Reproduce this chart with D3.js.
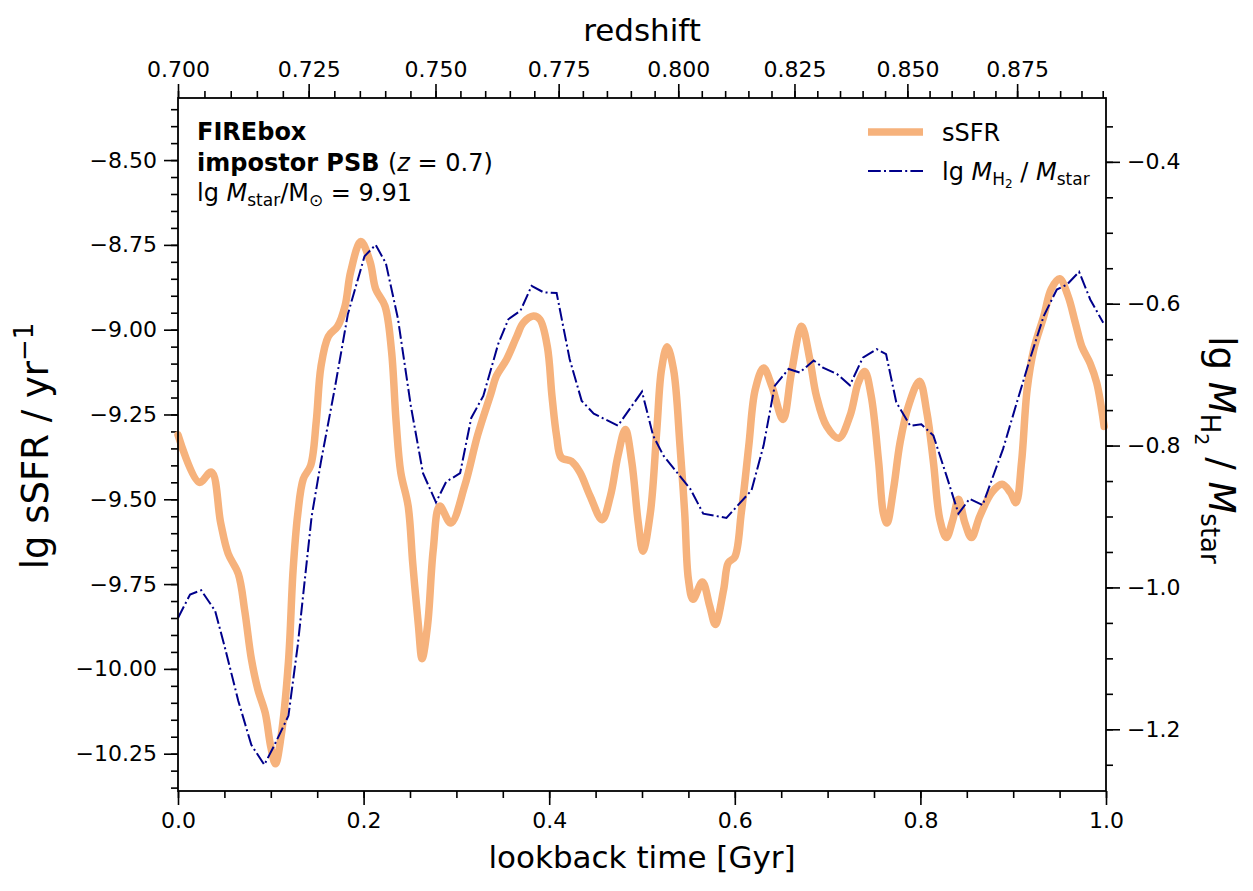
<!DOCTYPE html>
<html>
<head>
<meta charset="utf-8">
<script src="https://cdnjs.cloudflare.com/ajax/libs/d3/7.8.5/d3.min.js"></script>
<style>
	body { margin: 0; background: #fff; }
	text { font-family: "DejaVu Sans", sans-serif; fill: #000; }
</style>
</head>
<body>
<svg id="chart" width="1253" height="891"></svg>
<script>

// sSFR history (lookback time in Gyr, lg sSFR in yr^-1)
var sfrTime = [0.000, 0.023, 0.036, 0.046, 0.054, 0.065, 0.072, 0.079, 0.086, 0.094, 0.100, 0.105, 0.111, 0.119,
	0.124, 0.129, 0.135, 0.143, 0.149, 0.154, 0.162, 0.172, 0.180, 0.186, 0.197, 0.207, 0.213, 0.223, 0.230, 0.235,
	0.240, 0.248, 0.253, 0.259, 0.263, 0.269, 0.275, 0.282, 0.294, 0.309, 0.323, 0.337, 0.343, 0.354, 0.365, 0.372,
	0.383, 0.390, 0.398, 0.403, 0.408, 0.413, 0.424, 0.433, 0.444, 0.457, 0.466, 0.474, 0.482, 0.489, 0.496, 0.501,
	0.509, 0.516, 0.521, 0.527, 0.534, 0.541, 0.546, 0.550, 0.555, 0.565, 0.573, 0.579, 0.588, 0.593, 0.600, 0.607,
	0.615, 0.622, 0.631, 0.640, 0.652, 0.661, 0.672, 0.681, 0.688, 0.699, 0.712, 0.724, 0.733, 0.740, 0.747, 0.755,
	0.760, 0.764, 0.771, 0.778, 0.787, 0.799, 0.807, 0.814, 0.821, 0.828, 0.835, 0.841, 0.848, 0.855, 0.864, 0.877,
	0.888, 0.897, 0.903, 0.909, 0.915, 0.922, 0.933, 0.941, 0.950, 0.959, 0.967, 0.974, 0.983, 0.990, 0.998];
var sfrValue = [-9.31, -9.45, -9.42, -9.57, -9.66, -9.72, -9.83, -9.97, -10.06, -10.13, -10.23, -10.28, -10.20, -9.98,
	-9.71, -9.545, -9.44, -9.40, -9.27, -9.11, -9.02, -8.99, -8.93, -8.83, -8.74, -8.80, -8.88, -8.93, -9.06, -9.27,
	-9.42, -9.52, -9.69, -9.87, -9.97, -9.87, -9.65, -9.52, -9.57, -9.46, -9.31, -9.19, -9.137, -9.088, -9.02, -8.98,
	-8.96, -8.97, -9.05, -9.196, -9.314, -9.377, -9.388, -9.42, -9.49, -9.56, -9.49, -9.373, -9.294, -9.39, -9.57, -9.653,
	-9.54, -9.294, -9.118, -9.05, -9.118, -9.344, -9.54, -9.736, -9.795, -9.744, -9.815, -9.869, -9.766, -9.687, -9.67, -9.54,
	-9.344, -9.177, -9.113, -9.167, -9.265, -9.128, -8.99, -9.09, -9.196, -9.285, -9.32, -9.255, -9.157, -9.123, -9.196, -9.39,
	-9.54, -9.57, -9.47, -9.334, -9.226, -9.152, -9.245, -9.39, -9.56, -9.613, -9.56, -9.50, -9.57, -9.613, -9.55, -9.48,
	-9.456, -9.48, -9.51, -9.39, -9.177, -9.06, -8.96, -8.88, -8.85, -8.90, -8.98, -9.05, -9.10, -9.157, -9.285];

// molecular gas fraction (lookback time in Gyr, lg M_H2/M_star)
var h2Time = [0.000, 0.013, 0.025, 0.040, 0.050, 0.065, 0.079, 0.093, 0.104, 0.119, 0.129, 0.144, 0.154, 0.169,
	0.183, 0.201, 0.213, 0.224, 0.237, 0.251, 0.264, 0.278, 0.289, 0.304, 0.316, 0.329, 0.345, 0.356, 0.369, 0.381,
	0.394, 0.408, 0.422, 0.435, 0.448, 0.474, 0.500, 0.512, 0.523, 0.552, 0.566, 0.591, 0.618, 0.631, 0.643, 0.658,
	0.670, 0.685, 0.695, 0.710, 0.724, 0.738, 0.753, 0.763, 0.774, 0.789, 0.801, 0.814, 0.828, 0.841, 0.853, 0.867,
	0.889, 0.904, 0.918, 0.933, 0.947, 0.958, 0.971, 0.983, 0.997];
var h2Value = [-1.043, -1.010, -1.004, -1.033, -1.082, -1.160, -1.222, -1.250, -1.222, -1.181, -1.082, -0.900, -0.823, -0.719,
	-0.615, -0.533, -0.517, -0.543, -0.621, -0.745, -0.839, -0.880, -0.851, -0.839, -0.761, -0.730, -0.657, -0.622, -0.610, -0.575,
	-0.584, -0.585, -0.678, -0.737, -0.755, -0.772, -0.724, -0.786, -0.814, -0.861, -0.896, -0.902, -0.863, -0.800, -0.716, -0.692,
	-0.697, -0.680, -0.690, -0.699, -0.715, -0.676, -0.664, -0.671, -0.739, -0.772, -0.770, -0.786, -0.842, -0.896, -0.875, -0.884,
	-0.805, -0.739, -0.678, -0.617, -0.580, -0.573, -0.555, -0.594, -0.627];

// tick labels
var timeTicks = [0, 0.2, 0.4, 0.6, 0.8, 1.0];
var sfrTicks = [-8.5, -8.75, -9, -9.25, -9.5, -9.75, -10, -10.25];
var h2Ticks = [-0.4, -0.6, -0.8, -1.0, -1.2];
var redshiftTicks = [0.700, 0.725, 0.750, 0.775, 0.800, 0.825, 0.850, 0.875];

// cosmology for the redshift axis
var H0 = 67.66, Om = 0.3097, zRef = 0.7;

//Width and height
var w = 1253;
var h = 891;
var margin = { top: 98, right: 147, bottom: 100, left: 178 };
var width = w - margin.left - margin.right;
var height = h - margin.top - margin.bottom;

var svg = d3.select("#chart");
var g = svg.append("g").attr("transform", "translate(" + margin.left + "," + margin.top + ")");

//Scales
var x = d3.scaleLinear().domain([0, 1]).range([0, width]);
var y = d3.scaleLinear().domain([-10.36, -8.317]).range([height, 0]);
var y2 = d3.scaleLinear().domain([-1.287, -0.310]).range([height, 0]);

// lookback time from zRef to z, tabulated so it can be used as a polylinear scale
var zs = d3.range(0.700, 0.9005, 0.001);
var hubbleTime = 977.8 / H0;
var tl = [0];
function integrand(z) {
	var E = Math.sqrt(Om * Math.pow(1 + z, 3) + (1 - Om));
	return 1 / ((1 + z) * E);
}
for (var i = 1; i < zs.length; i++) {
	tl.push(tl[i - 1] + (zs[i] - zs[i - 1]) * 0.5 * (integrand(zs[i]) + integrand(zs[i - 1])) * hubbleTime);
}
var xz = d3.scaleLinear().domain(zs).range(tl.map(function (t) { return x(t); }));

// minor tick helpers
function minorTicks(lo, hi, step) {
	var out = [];
	var n = Math.ceil(lo / step - 1e-9);
	for (var v = n * step; v <= hi + 1e-9; v = (++n) * step) out.push(+v.toFixed(4));
	return out;
}

function styleAxis(sel) {
	sel.select(".domain").remove();
	sel.selectAll(".tick line").attr("stroke", "#000").attr("stroke-width", 1.6);
	sel.selectAll(".tick text").attr("font-size", 22).attr("font-family", "DejaVu Sans");
}

var majorLen = 14, minorLen = 7, pad = 7;

//Bottom axis
g.append("g").attr("transform", "translate(0," + height + ")")
	.call(d3.axisBottom(x).tickValues(minorTicks(0, 1, 0.05)).tickFormat("").tickSize(minorLen))
	.call(styleAxis);
g.append("g").attr("transform", "translate(0," + height + ")")
	.call(d3.axisBottom(x).tickValues(timeTicks).tickFormat(d3.format(".1f")).tickSize(majorLen).tickPadding(pad))
	.call(styleAxis);

//Top axis (redshift)
var zMax = xz.invert(width);
g.append("g")
	.call(d3.axisTop(xz).tickValues(minorTicks(0.7, zMax, 0.005)).tickFormat("").tickSize(minorLen))
	.call(styleAxis);
g.append("g")
	.call(d3.axisTop(xz).tickValues(redshiftTicks).tickFormat(d3.format(".3f")).tickSize(majorLen).tickPadding(pad))
	.call(styleAxis);

//Left axis
g.append("g")
	.call(d3.axisLeft(y).tickValues(minorTicks(-10.36, -8.317, 0.05)).tickFormat("").tickSize(minorLen))
	.call(styleAxis);
g.append("g")
	.call(d3.axisLeft(y).tickValues(sfrTicks).tickFormat(d3.format(".2f")).tickSize(majorLen).tickPadding(pad))
	.call(styleAxis);

//Right axis
g.append("g").attr("transform", "translate(" + width + ",0)")
	.call(d3.axisRight(y2).tickValues(minorTicks(-1.287, -0.310, 0.05)).tickFormat("").tickSize(minorLen))
	.call(styleAxis);
g.append("g").attr("transform", "translate(" + width + ",0)")
	.call(d3.axisRight(y2).tickValues(h2Ticks).tickFormat(d3.format(".1f")).tickSize(majorLen).tickPadding(pad))
	.call(styleAxis);

//Lines
var sfrLine = d3.line()
	.x(function (d, i) { return x(sfrTime[i]); })
	.y(function (d) { return y(d); })
	.curve(d3.curveCatmullRom.alpha(0.5));
var h2Line = d3.line()
	.x(function (d, i) { return x(h2Time[i]); })
	.y(function (d) { return y2(d); });

var orange = "#f6b27c", navy = "#00008b";
var dashDot = "12.8,3.2,2,3.2";

g.append("path").datum(sfrValue)
	.attr("d", sfrLine)
	.attr("fill", "none")
	.attr("stroke", orange)
	.attr("stroke-width", 7.5)
	.attr("stroke-linecap", "round")
	.attr("stroke-linejoin", "round");

g.append("path").datum(h2Value)
	.attr("d", h2Line)
	.attr("fill", "none")
	.attr("stroke", navy)
	.attr("stroke-width", 2)
	.attr("stroke-dasharray", dashDot);

//Frame
g.append("rect")
	.attr("width", width).attr("height", height)
	.attr("fill", "none").attr("stroke", "#000").attr("stroke-width", 1.8);

//Axis labels
svg.append("text")
	.attr("x", margin.left + width / 2).attr("y", 868)
	.attr("text-anchor", "middle").attr("font-size", 31)
	.text("lookback time [Gyr]");

svg.append("text")
	.attr("x", margin.left + width / 2).attr("y", 41)
	.attr("text-anchor", "middle").attr("font-size", 31)
	.text("redshift");

var yl = svg.append("text")
	.attr("transform", "translate(48,446) rotate(-90)")
	.attr("text-anchor", "middle").attr("font-size", 37);
yl.append("tspan").text("lg sSFR / yr");
yl.append("tspan").attr("dy", -15).attr("font-size", 26).text("\u22121");

var yr = svg.append("text")
	.attr("transform", "translate(1209,450) rotate(90)")
	.attr("text-anchor", "middle").attr("font-size", 37);
yr.append("tspan").text("lg ");
yr.append("tspan").attr("font-style", "italic").text("M");
yr.append("tspan").attr("dy", 8).attr("font-size", 26).text("H");
yr.append("tspan").attr("dy", 6).attr("font-size", 19).text("2");
yr.append("tspan").attr("dy", -14).text(" / ");
yr.append("tspan").attr("font-style", "italic").text("M");
yr.append("tspan").attr("dy", 8).attr("font-size", 26).text("star");

//Annotation
var ax = margin.left + 19;
svg.append("text").attr("x", ax).attr("y", 140)
	.attr("font-size", 24).attr("font-weight", "bold").text("FIREbox");
var t2 = svg.append("text").attr("x", ax).attr("y", 171).attr("font-size", 24);
t2.append("tspan").attr("font-weight", "bold").text("impostor PSB ");
t2.append("tspan").text("(");
t2.append("tspan").attr("font-style", "italic").text("z");
t2.append("tspan").text(" = 0.7)");
var t3 = svg.append("text").attr("x", ax).attr("y", 201).attr("font-size", 24);
t3.append("tspan").text("lg ");
t3.append("tspan").attr("font-style", "italic").text("M");
t3.append("tspan").attr("dy", 5).attr("font-size", 17).text("star");
t3.append("tspan").attr("dy", -5).text("/M");
t3.append("tspan").attr("dy", 5).attr("font-size", 17).text("\u2299");
t3.append("tspan").attr("dy", -5).text(" = 9.91");

//Legend
var lx = 868, lw = 55;
svg.append("line").attr("x1", lx).attr("x2", lx + lw).attr("y1", 132).attr("y2", 132)
	.attr("stroke", orange).attr("stroke-width", 7.5);
svg.append("text").attr("x", 942).attr("y", 141).attr("font-size", 24).text("sSFR");
svg.append("line").attr("x1", lx).attr("x2", lx + lw).attr("y1", 171).attr("y2", 171)
	.attr("stroke", navy).attr("stroke-width", 2).attr("stroke-dasharray", dashDot);
var l2 = svg.append("text").attr("x", 942).attr("y", 180).attr("font-size", 24);
l2.append("tspan").text("lg ");
l2.append("tspan").attr("font-style", "italic").text("M");
l2.append("tspan").attr("dy", 5).attr("font-size", 17).text("H");
l2.append("tspan").attr("dy", 3).attr("font-size", 12).text("2");
l2.append("tspan").attr("dy", -8).text(" / ");
l2.append("tspan").attr("font-style", "italic").text("M");
l2.append("tspan").attr("dy", 5).attr("font-size", 17).text("star");

</script>
</body>
</html>
